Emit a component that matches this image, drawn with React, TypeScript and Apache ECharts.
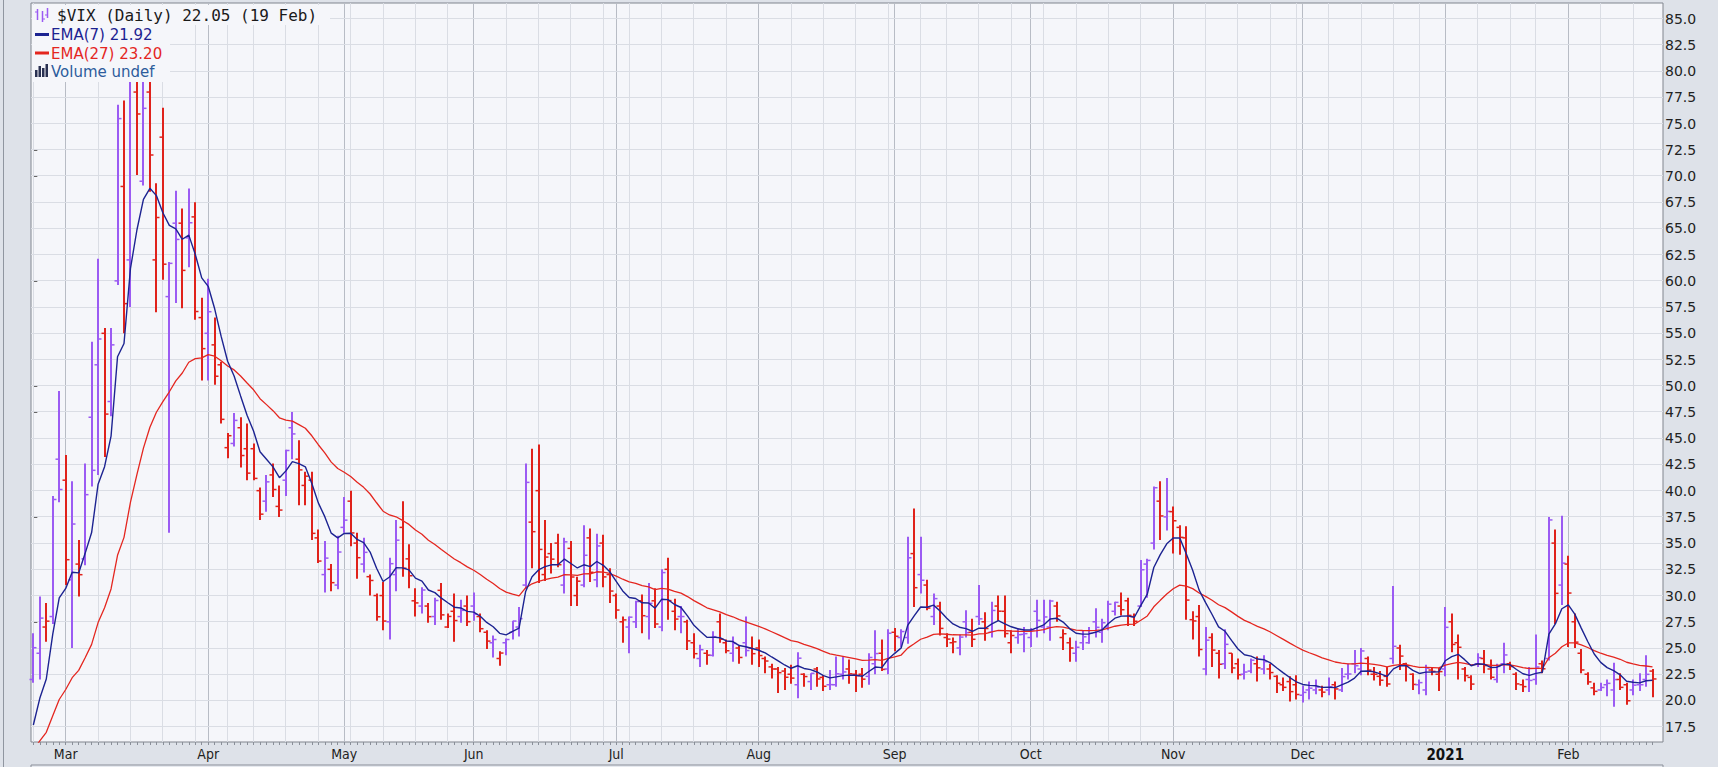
import React, { useEffect, useRef } from 'react';
import * as echarts from 'echarts';

// ---- Data ----
const DATES: string[] = [
  '2020-02-24','2020-02-25','2020-02-26','2020-02-27','2020-02-28',
  '2020-03-02','2020-03-03','2020-03-04','2020-03-05','2020-03-06','2020-03-09','2020-03-10','2020-03-11','2020-03-12','2020-03-13','2020-03-16','2020-03-17','2020-03-18','2020-03-19','2020-03-20','2020-03-23','2020-03-24','2020-03-25','2020-03-26','2020-03-27','2020-03-30','2020-03-31',
  '2020-04-01','2020-04-02','2020-04-03','2020-04-06','2020-04-07','2020-04-08','2020-04-09','2020-04-13','2020-04-14','2020-04-15','2020-04-16','2020-04-17','2020-04-20','2020-04-21','2020-04-22','2020-04-23','2020-04-24','2020-04-27','2020-04-28','2020-04-29','2020-04-30',
  '2020-05-01','2020-05-04','2020-05-05','2020-05-06','2020-05-07','2020-05-08','2020-05-11','2020-05-12','2020-05-13','2020-05-14','2020-05-15','2020-05-18','2020-05-19','2020-05-20','2020-05-21','2020-05-22','2020-05-26','2020-05-27','2020-05-28','2020-05-29',
  '2020-06-01','2020-06-02','2020-06-03','2020-06-04','2020-06-05','2020-06-08','2020-06-09','2020-06-10','2020-06-11','2020-06-12','2020-06-15','2020-06-16','2020-06-17','2020-06-18','2020-06-19','2020-06-22','2020-06-23','2020-06-24','2020-06-25','2020-06-26','2020-06-29','2020-06-30',
  '2020-07-01','2020-07-02','2020-07-06','2020-07-07','2020-07-08','2020-07-09','2020-07-10','2020-07-13','2020-07-14','2020-07-15','2020-07-16','2020-07-17','2020-07-20','2020-07-21','2020-07-22','2020-07-23','2020-07-24','2020-07-27','2020-07-28','2020-07-29','2020-07-30','2020-07-31',
  '2020-08-03','2020-08-04','2020-08-05','2020-08-06','2020-08-07','2020-08-10','2020-08-11','2020-08-12','2020-08-13','2020-08-14','2020-08-17','2020-08-18','2020-08-19','2020-08-20','2020-08-21','2020-08-24','2020-08-25','2020-08-26','2020-08-27','2020-08-28','2020-08-31',
  '2020-09-01','2020-09-02','2020-09-03','2020-09-04','2020-09-08','2020-09-09','2020-09-10','2020-09-11','2020-09-14','2020-09-15','2020-09-16','2020-09-17','2020-09-18','2020-09-21','2020-09-22','2020-09-23','2020-09-24','2020-09-25','2020-09-28','2020-09-29','2020-09-30',
  '2020-10-01','2020-10-02','2020-10-05','2020-10-06','2020-10-07','2020-10-08','2020-10-09','2020-10-12','2020-10-13','2020-10-14','2020-10-15','2020-10-16','2020-10-19','2020-10-20','2020-10-21','2020-10-22','2020-10-23','2020-10-26','2020-10-27','2020-10-28','2020-10-29','2020-10-30',
  '2020-11-02','2020-11-03','2020-11-04','2020-11-05','2020-11-06','2020-11-09','2020-11-10','2020-11-11','2020-11-12','2020-11-13','2020-11-16','2020-11-17','2020-11-18','2020-11-19','2020-11-20','2020-11-23','2020-11-24','2020-11-25','2020-11-27','2020-11-30',
  '2020-12-01','2020-12-02','2020-12-03','2020-12-04','2020-12-07','2020-12-08','2020-12-09','2020-12-10','2020-12-11','2020-12-14','2020-12-15','2020-12-16','2020-12-17','2020-12-18','2020-12-21','2020-12-22','2020-12-23','2020-12-24','2020-12-28','2020-12-29','2020-12-30','2020-12-31',
  '2021-01-04','2021-01-05','2021-01-06','2021-01-07','2021-01-08','2021-01-11','2021-01-12','2021-01-13','2021-01-14','2021-01-15','2021-01-19','2021-01-20','2021-01-21','2021-01-22','2021-01-25','2021-01-26','2021-01-27','2021-01-28','2021-01-29',
  '2021-02-01','2021-02-02','2021-02-03','2021-02-04','2021-02-05','2021-02-08','2021-02-09','2021-02-10','2021-02-11','2021-02-12','2021-02-16','2021-02-17','2021-02-18','2021-02-19',
];

const OPEN: number[] = [
  22.0, 24.5, 27.0, 28.0, 43.0,
  41.0, 31.5, 33.0, 33.5, 47.0, 52.0, 55.0, 48.5, 60.0, 69.0, 62.0, 78.0, 69.5, 78.0, 62.0, 73.7, 58.5, 65.5, 65.5, 64.1, 66.1, 56.5,
  55.0, 53.9, 52.0, 44.1, 44.5, 46.0, 44.0, 44.0, 40.0, 39.0, 41.5, 38.5, 41.0, 46.0, 43.0, 40.5, 41.0, 35.5, 32.0, 32.5, 31.0,
  36.5, 39.0, 35.0, 33.0, 31.8, 30.0, 30.0, 27.5, 32.0, 36.5, 33.5, 29.5, 29.0, 29.0, 28.0, 30.5, 27.0, 28.5, 28.0, 29.0,
  29.0, 28.0, 26.5, 25.5, 24.0, 25.5, 26.5, 27.0, 31.0, 37.0, 40.0, 32.0, 34.0, 35.0, 31.0, 34.5, 30.0, 31.0, 35.5, 31.5, 35.0, 32.0,
  30.0, 27.5, 27.0, 27.5, 29.5, 28.0, 29.5, 27.0, 32.5, 28.5, 28.0, 27.5, 25.5, 24.0, 24.5, 24.3, 27.5, 25.5, 24.5, 25.0, 25.5, 25.0,
  25.0, 24.0, 23.2, 23.0, 22.8, 22.5, 21.5, 22.5, 21.8, 23.0, 22.2, 21.5, 21.5, 22.5, 23.0, 22.5, 22.5, 22.3, 23.5, 24.5, 23.0,
  26.5, 26.0, 26.0, 34.0, 32.0, 31.0, 28.0, 29.0, 26.0, 25.5, 25.0, 27.5, 26.5, 28.0, 27.5, 26.5, 29.0, 28.5, 25.5, 26.0, 26.3,
  26.0, 28.5, 27.0, 27.0, 29.0, 26.0, 25.5, 24.5, 25.5, 25.5, 27.5, 26.5, 27.0, 28.5, 29.0, 29.5, 28.0, 29.0, 33.0, 35.0, 39.0, 37.5,
  38.0, 36.5, 35.5, 27.7, 28.0, 23.0, 26.0, 24.5, 23.5, 24.5, 23.5, 22.5, 22.8, 23.5, 23.0, 23.0, 22.3, 21.5, 21.8, 21.5,
  20.5, 21.0, 21.0, 21.0, 21.0, 21.5, 21.0, 22.5, 23.5, 23.0, 24.0, 22.5, 22.3, 22.3, 24.0, 25.0, 23.5, 22.5, 21.5, 21.0, 22.9, 22.5,
  23.0, 27.5, 25.5, 23.0, 22.2, 23.5, 24.0, 23.0, 22.0, 23.5, 23.5, 22.5, 21.5, 22.0, 22.0, 23.5, 24.0, 35.0, 31.0,
  33.0, 27.5, 24.5, 22.5, 21.2, 21.0, 21.5, 21.0, 22.0, 21.5, 21.0, 21.5, 22.0, 22.8,
];

const HIGH: number[] = [
  26.4, 29.9, 29.3, 39.5, 49.5,
  43.4, 40.9, 35.3, 42.6, 54.2, 62.1, 55.5, 55.5, 76.8, 77.2, 83.6, 84.8, 85.5, 85.0, 69.3, 76.5, 61.8, 68.6, 66.9, 68.8, 67.5, 58.4,
  60.2, 56.5, 52.3, 45.5, 47.4, 47.0, 46.4, 44.5, 40.3, 41.5, 42.6, 40.5, 43.9, 47.5, 44.8, 41.8, 41.8, 36.3, 35.2, 33.0, 35.7,
  39.4, 40.0, 36.0, 35.5, 32.0, 30.2, 31.3, 33.6, 37.2, 39.0, 34.9, 30.7, 30.8, 29.3, 29.8, 31.2, 28.3, 30.2, 29.6, 30.0,
  30.3, 28.3, 26.7, 26.2, 24.7, 25.9, 27.6, 28.9, 42.6, 44.0, 44.4, 37.2, 35.0, 35.9, 35.5, 35.2, 31.8, 36.7, 36.4, 35.9, 35.8, 32.6,
  30.2, 28.0, 28.0, 29.5, 30.1, 31.2, 30.7, 32.5, 33.6, 29.7, 29.0, 27.7, 26.4, 25.3, 24.8, 26.6, 28.3, 25.8, 26.1, 25.2, 28.0, 26.1,
  25.8, 24.2, 23.5, 23.2, 23.1, 23.4, 24.6, 22.6, 22.6, 23.2, 22.4, 22.9, 24.2, 24.2, 23.9, 22.9, 23.1, 24.5, 26.7, 25.8, 26.8,
  26.9, 26.8, 35.6, 38.3, 35.6, 31.5, 30.2, 29.4, 26.4, 26.0, 26.3, 28.6, 27.8, 31.0, 28.4, 29.4, 30.0, 30.0, 26.7, 26.9, 27.0,
  26.9, 29.6, 29.6, 29.6, 29.4, 26.8, 26.0, 25.7, 26.7, 27.0, 28.8, 27.8, 29.5, 29.4, 30.3, 29.8, 28.3, 33.4, 33.5, 40.4, 40.9, 41.2,
  38.5, 36.7, 36.6, 28.5, 29.1, 27.0, 26.4, 24.8, 26.8, 24.5, 24.0, 23.5, 24.0, 24.2, 24.3, 23.5, 22.4, 22.2, 22.3, 22.4,
  21.4, 21.8, 22.0, 21.4, 22.2, 21.8, 23.1, 23.5, 24.8, 25.0, 24.2, 23.2, 22.8, 23.2, 30.9, 25.3, 23.6, 22.6, 22.0, 23.4, 23.1, 23.1,
  28.9, 28.3, 26.3, 23.2, 22.4, 24.5, 24.8, 23.9, 23.5, 25.5, 23.7, 22.7, 22.0, 23.2, 26.3, 23.8, 37.5, 36.3, 37.6,
  33.8, 28.3, 24.9, 22.7, 21.7, 21.7, 22.0, 23.6, 22.6, 21.7, 22.0, 22.6, 24.3, 23.0,
];

const LOW: number[] = [
  21.7, 22.0, 25.6, 27.3, 38.9,
  31.0, 25.0, 29.9, 32.9, 40.4, 41.5, 43.2, 47.1, 59.6, 55.0, 57.5, 70.1, 69.1, 68.5, 57.0, 60.1, 36.0, 57.9, 57.4, 61.3, 56.3, 50.5,
  50.5, 50.1, 46.4, 43.1, 44.2, 42.2, 41.0, 41.0, 37.2, 38.0, 39.4, 37.5, 39.5, 43.0, 38.6, 38.6, 35.3, 33.1, 30.3, 30.4, 30.6,
  36.0, 34.7, 31.6, 32.2, 30.0, 27.6, 26.7, 25.8, 30.4, 31.8, 30.7, 28.0, 28.3, 27.4, 27.2, 27.7, 26.9, 25.6, 27.4, 27.1,
  27.6, 26.5, 24.9, 24.1, 23.3, 24.3, 25.8, 26.1, 30.6, 32.6, 31.2, 31.4, 32.1, 32.7, 30.2, 29.0, 29.0, 30.8, 31.3, 30.8, 30.8, 29.3,
  27.8, 25.5, 24.5, 26.9, 26.4, 25.8, 26.9, 26.6, 27.7, 26.7, 26.4, 24.8, 24.0, 23.2, 23.4, 24.2, 25.5, 24.5, 23.7, 23.5, 24.2, 23.4,
  23.2, 22.6, 22.1, 20.7, 21.0, 21.6, 20.2, 21.3, 21.0, 21.3, 20.9, 21.0, 21.3, 22.0, 21.6, 20.8, 21.2, 21.5, 22.5, 22.8, 22.5,
  24.7, 25.1, 25.4, 28.9, 30.2, 28.6, 27.2, 26.2, 25.1, 24.5, 24.3, 26.0, 25.1, 27.2, 25.7, 26.0, 27.6, 26.0, 24.5, 25.4, 24.6,
  25.1, 26.0, 26.4, 25.7, 27.5, 24.8, 23.7, 23.7, 24.8, 25.4, 26.0, 25.5, 26.7, 28.1, 28.1, 27.1, 27.1, 28.9, 29.8, 34.4, 35.3, 36.2,
  34.0, 33.9, 27.7, 25.8, 24.2, 22.4, 23.2, 22.1, 23.0, 22.6, 22.0, 22.0, 22.6, 21.8, 22.5, 22.0, 20.7, 20.9, 19.9, 20.1,
  19.8, 20.1, 20.6, 20.3, 20.5, 20.1, 20.8, 22.0, 22.6, 22.4, 22.4, 21.9, 21.4, 21.3, 23.5, 22.9, 21.8, 21.0, 20.6, 20.5, 22.4, 20.9,
  22.3, 24.6, 22.0, 21.8, 21.0, 23.2, 22.6, 22.0, 21.7, 22.6, 22.9, 21.0, 20.8, 20.8, 21.5, 22.6, 23.8, 27.3, 29.1,
  25.1, 25.0, 22.6, 21.5, 20.5, 20.9, 20.4, 19.4, 21.0, 19.6, 20.5, 20.9, 21.3, 20.3,
];

const CLOSE: number[] = [
  25.03, 27.85, 27.56, 39.16, 40.11,
  33.42, 36.82, 31.99, 39.62, 41.94, 54.46, 47.30, 53.90, 75.47, 57.83, 82.69, 75.91, 76.45, 72.00, 66.04, 61.59, 61.67, 63.95, 61.00, 65.54, 57.08, 53.54,
  57.06, 50.91, 46.80, 45.24, 46.70, 43.35, 41.67, 41.17, 37.76, 40.84, 40.11, 38.15, 43.83, 45.41, 41.98, 41.38, 35.93, 33.29, 33.57, 31.23, 34.15,
  37.19, 35.97, 33.61, 34.12, 31.44, 27.98, 27.57, 33.04, 35.28, 32.61, 31.89, 29.30, 30.53, 27.99, 29.53, 28.16, 28.01, 27.62, 28.59, 27.51,
  28.23, 26.84, 25.66, 25.81, 24.52, 25.81, 27.57, 27.80, 40.79, 36.09, 34.40, 33.67, 33.47, 32.94, 35.12, 31.77, 31.37, 33.84, 32.22, 34.73, 31.78, 30.43,
  28.62, 27.68, 27.94, 29.43, 28.08, 29.26, 27.29, 32.19, 29.52, 27.76, 28.00, 25.68, 24.46, 24.84, 24.32, 26.08, 25.84, 24.74, 25.44, 24.10, 24.76, 24.46,
  24.28, 23.76, 23.00, 22.65, 22.21, 22.13, 24.03, 22.28, 22.59, 22.05, 21.35, 21.51, 22.54, 22.72, 22.54, 22.37, 22.03, 24.10, 24.47, 22.96, 26.41,
  26.12, 26.57, 33.60, 30.75, 31.46, 28.81, 29.71, 26.87, 25.85, 25.59, 26.04, 26.46, 25.83, 27.78, 26.86, 28.58, 28.51, 26.38, 26.19, 26.27, 26.37,
  26.70, 27.63, 27.96, 29.48, 28.06, 26.36, 25.00, 25.07, 26.07, 26.40, 26.97, 27.41, 29.18, 29.35, 28.65, 28.11, 27.55, 32.46, 33.35, 40.28, 37.59, 38.02,
  37.13, 35.55, 29.57, 27.58, 24.86, 25.75, 24.80, 23.45, 25.35, 23.10, 22.45, 22.71, 23.84, 23.11, 23.70, 22.66, 21.64, 21.25, 20.84, 20.57,
  20.77, 21.17, 21.28, 20.79, 21.30, 21.10, 22.27, 22.52, 23.31, 24.72, 22.89, 22.50, 21.93, 21.57, 25.16, 24.23, 23.31, 21.53, 21.70, 23.08, 22.77, 22.75,
  26.97, 25.34, 25.07, 22.37, 21.56, 24.08, 23.33, 22.21, 23.25, 24.34, 23.24, 21.58, 21.32, 21.91, 23.19, 23.02, 37.21, 30.21, 33.09,
  30.24, 25.56, 22.91, 21.77, 20.87, 21.24, 21.63, 21.99, 21.25, 19.97, 21.46, 21.50, 22.49, 22.05,
];

const PREV_CLOSE = 17.08; // close before the first bar
const EMA7_START = 15.2; // EMA(7) value before the first bar
const EMA27_START = 14.5; // EMA(27) value before the first bar

const Y_TICKS: number[] = [17.5, 20, 22.5, 25, 27.5, 30, 32.5, 35, 37.5, 40, 42.5, 45, 47.5, 50, 52.5, 55, 57.5, 60, 62.5, 65, 67.5, 70, 72.5, 75, 77.5, 80, 82.5, 85];
const MONTH_NAMES = ['Jan', 'Feb', 'Mar', 'Apr', 'May', 'Jun', 'Jul', 'Aug', 'Sep', 'Oct', 'Nov', 'Dec'];

const TITLE_TEXT = '$VIX (Daily) 22.05 (19 Feb)';
const EMA7_TEXT = 'EMA(7) 21.92';
const EMA27_TEXT = 'EMA(27) 23.20';
const VOLUME_TEXT = 'Volume undef';

// ---- Styles ----
const PURPLE = '#9B5BF3';
const RED = '#E0221B';
const NAVY = '#1C2391';
const EMA_RED = '#E4261F';
const PLOT_BG = '#F5F6FA';
const GRID_MINOR = '#DADDE4';
const GRID_MAJOR = '#B8BCC5';

function emaSeries(values: number[], period: number, start: number): number[] {
  const k = 2 / (period + 1);
  const out: number[] = [];
  let prev = start;
  for (const v of values) {
    prev = prev + k * (v - prev);
    out.push(Math.round(prev * 1000) / 1000);
  }
  return out;
}

export default function App() {
  const ref = useRef<HTMLDivElement>(null);

  useEffect(() => {
    if (!ref.current) return;
    const chart = echarts.init(ref.current, null, { renderer: 'svg' });

    const parsed = DATES.map((d) => new Date(d + 'T00:00:00Z'));
    const weekStarts: number[] = [];
    const monthStarts: number[] = [];
    parsed.forEach((dt, i) => {
      if (i === 0) {
        weekStarts.push(0);
        return;
      }
      const p = parsed[i - 1];
      if (dt.getUTCDay() <= p.getUTCDay() || dt.getTime() - p.getTime() >= 7 * 864e5) weekStarts.push(i);
      if (dt.getUTCMonth() !== p.getUTCMonth()) monthStarts.push(i);
    });
    const allIdx = DATES.map((_, i) => i);

    const ohlc = DATES.map((_, i) => [
      i, OPEN[i], HIGH[i], LOW[i], CLOSE[i],
      CLOSE[i] > (i ? CLOSE[i - 1] : PREV_CLOSE) ? 1 : 0,
    ]);
    const ema7 = emaSeries(CLOSE, 7, EMA7_START).map((v, i) => [i, v]);
    const ema27 = emaSeries(CLOSE, 27, EMA27_START).map((v, i) => [i, v]);

    const X_MIN = -0.36;
    const X_MAX = 251.62;
    const Y_MIN = 16.04;
    const Y_MAX = 86.49;

    const vLine = (color: string) => (params: any, api: any) => {
      const cs = params.coordSys;
      const x = Math.floor(api.coord([api.value(0), Y_MIN])[0]) + 0.5;
      return {
        type: 'line',
        shape: { x1: x, y1: cs.y, x2: x, y2: cs.y + cs.height },
        style: { stroke: color, lineWidth: 1 },
        silent: true,
      };
    };

    const option: any = {
      animation: false,
      backgroundColor: '#DEE2E9',
      grid: [
        {
          left: 31, right: 55, top: 3, bottom: 25,
          show: true, backgroundColor: PLOT_BG, borderColor: '#80858E', borderWidth: 1,
        },
        {
          left: 31, right: 55, top: 765, height: 20,
          show: true, backgroundColor: '#E6E9EF', borderColor: '#8A8F99', borderWidth: 1,
        },
      ],
      xAxis: [
        {
          type: 'value', gridIndex: 0, min: X_MIN, max: X_MAX,
          axisLine: { show: false },
          splitLine: { show: false },
          axisTick: { show: true, customValues: allIdx, length: 3, lineStyle: { color: '#8A8F99' } },
          axisLabel: {
            customValues: monthStarts,
            margin: 5,
            color: '#222',
            fontSize: 14,
            fontFamily: '"DejaVu Sans Condensed", "DejaVu Sans", sans-serif',
            formatter: (v: number) => {
              const d = parsed[Math.round(v)];
              if (!d) return '';
              const m = d.getUTCMonth();
              return m === 0 ? `{y|${d.getUTCFullYear()}}` : MONTH_NAMES[m];
            },
            rich: {
              y: { fontWeight: 'bold', fontSize: 15, color: '#111', fontFamily: '"DejaVu Sans Condensed", "DejaVu Sans", sans-serif' },
            },
          },
        },
        {
          type: 'value', gridIndex: 1, min: X_MIN, max: X_MAX, position: 'top',
          axisLine: { show: false },
          splitLine: { show: false },
          axisLabel: { show: false },
          axisTick: { show: true, customValues: allIdx, length: 2, lineStyle: { color: '#8A8F99' } },
        },
      ],
      yAxis: [
        {
          type: 'value', gridIndex: 0, position: 'right', min: Y_MIN, max: Y_MAX,
          axisLine: { show: false },
          splitLine: { show: false },
          axisTick: { show: true, customValues: Y_TICKS, length: 4, lineStyle: { color: '#666' } },
          axisLabel: {
            customValues: Y_TICKS,
            margin: 2,
            color: '#222',
            fontSize: 14,
            fontFamily: '"DejaVu Sans", sans-serif',
            formatter: (v: number) => v.toFixed(1),
          },
        },
        { type: 'value', gridIndex: 1, show: false, min: 0, max: 1 },
      ],
      series: [
        {
          type: 'custom', name: 'weekGrid', xAxisIndex: 0, yAxisIndex: 0, z: 1, silent: true,
          data: weekStarts.map((i) => [i]),
          encode: { x: 0 },
          renderItem: vLine(GRID_MINOR),
        },
        {
          type: 'custom', name: 'monthGrid', xAxisIndex: 0, yAxisIndex: 0, z: 1, silent: true,
          data: monthStarts.map((i) => [i]),
          encode: { x: 0 },
          renderItem: vLine(GRID_MAJOR),
        },
        {
          type: 'custom', name: 'yGrid', xAxisIndex: 0, yAxisIndex: 0, z: 1, silent: true,
          data: Y_TICKS.map((v) => [0, v]),
          encode: { x: 0, y: 1 },
          renderItem: (params: any, api: any) => {
            const cs = params.coordSys;
            const y = Math.floor(api.coord([0, api.value(1)])[1]) + 0.5;
            return {
              type: 'line',
              shape: { x1: cs.x, y1: y, x2: cs.x + cs.width, y2: y },
              style: { stroke: GRID_MINOR, lineWidth: 1 },
              silent: true,
            };
          },
        },
        {
          type: 'custom', name: '$VIX', xAxisIndex: 0, yAxisIndex: 0, z: 3,
          data: ohlc,
          encode: { x: 0, y: [2, 3] },
          renderItem: (params: any, api: any) => {
            const i = api.value(0);
            const o = api.coord([i, api.value(1)]);
            const h = api.coord([i, api.value(2)]);
            const l = api.coord([i, api.value(3)]);
            const c = api.coord([i, api.value(4)]);
            const color = api.value(5) > 0 ? PURPLE : RED;
            const x = Math.round(h[0]);
            return {
              type: 'group',
              children: [
                { type: 'line', shape: { x1: x, y1: h[1], x2: x, y2: l[1] }, style: { stroke: color, lineWidth: 2 } },
                { type: 'line', shape: { x1: x - 3.5, y1: o[1], x2: x, y2: o[1] }, style: { stroke: color, lineWidth: 1.5 } },
                { type: 'line', shape: { x1: x, y1: c[1], x2: x + 3.5, y2: c[1] }, style: { stroke: color, lineWidth: 1.5 } },
              ],
            };
          },
        },
        {
          type: 'line', name: 'EMA(27)', xAxisIndex: 0, yAxisIndex: 0, z: 4,
          data: ema27, showSymbol: false, symbol: 'none', clip: true,
          lineStyle: { color: EMA_RED, width: 1.3 },
        },
        {
          type: 'line', name: 'EMA(7)', xAxisIndex: 0, yAxisIndex: 0, z: 5,
          data: ema7, showSymbol: false, symbol: 'none', clip: true,
          lineStyle: { color: NAVY, width: 1.4 },
        },
      ],
      graphic: [
        { type: 'line', shape: { x1: 3.5, y1: 0, x2: 3.5, y2: 767 }, style: { stroke: '#9096A0', lineWidth: 1 }, z: 100, silent: true },
        { type: 'rect', shape: { x: 32, y: 5, width: 298, height: 20 }, style: { fill: PLOT_BG }, z: 100, silent: true },
        { type: 'rect', shape: { x: 32, y: 25, width: 138, height: 57 }, style: { fill: PLOT_BG }, z: 100, silent: true },
        // title icon (small OHLC glyphs)
        { type: 'line', shape: { x1: 37.5, y1: 9, x2: 37.5, y2: 20 }, style: { stroke: PURPLE, lineWidth: 1.5 }, z: 101, silent: true },
        { type: 'line', shape: { x1: 35, y1: 12, x2: 37.5, y2: 12 }, style: { stroke: PURPLE, lineWidth: 1 }, z: 101, silent: true },
        { type: 'line', shape: { x1: 42.5, y1: 11, x2: 42.5, y2: 22 }, style: { stroke: PURPLE, lineWidth: 1.5 }, z: 101, silent: true },
        { type: 'line', shape: { x1: 42.5, y1: 19, x2: 45, y2: 19 }, style: { stroke: PURPLE, lineWidth: 1 }, z: 101, silent: true },
        { type: 'line', shape: { x1: 47.5, y1: 8, x2: 47.5, y2: 18 }, style: { stroke: PURPLE, lineWidth: 1.5 }, z: 101, silent: true },
        { type: 'line', shape: { x1: 45, y1: 15, x2: 47.5, y2: 15 }, style: { stroke: PURPLE, lineWidth: 1 }, z: 101, silent: true },
        { type: 'text', x: 57, y: 15, style: { text: TITLE_TEXT, fontFamily: '"DejaVu Sans Mono", monospace', fontSize: 16, fill: '#1A1A1A', verticalAlign: 'middle' }, z: 101, silent: true },
        // EMA(7)
        { type: 'line', shape: { x1: 35, y1: 34.5, x2: 49, y2: 34.5 }, style: { stroke: NAVY, lineWidth: 3 }, z: 101, silent: true },
        { type: 'text', x: 51, y: 35, style: { text: EMA7_TEXT, fontFamily: '"DejaVu Sans", sans-serif', fontSize: 15, fill: NAVY, verticalAlign: 'middle' }, z: 101, silent: true },
        // EMA(27)
        { type: 'line', shape: { x1: 35, y1: 53, x2: 49, y2: 53 }, style: { stroke: EMA_RED, lineWidth: 3 }, z: 101, silent: true },
        { type: 'text', x: 51, y: 53.5, style: { text: EMA27_TEXT, fontFamily: '"DejaVu Sans", sans-serif', fontSize: 15, fill: EMA_RED, verticalAlign: 'middle' }, z: 101, silent: true },
        // Volume icon
        { type: 'rect', shape: { x: 35, y: 70, width: 2.5, height: 7 }, style: { fill: '#2A3152' }, z: 101, silent: true },
        { type: 'rect', shape: { x: 38.5, y: 66, width: 2.5, height: 11 }, style: { fill: '#2A3152' }, z: 101, silent: true },
        { type: 'rect', shape: { x: 42, y: 68, width: 2.5, height: 9 }, style: { fill: '#2A3152' }, z: 101, silent: true },
        { type: 'rect', shape: { x: 45.5, y: 64, width: 2.5, height: 13 }, style: { fill: '#2A3152' }, z: 101, silent: true },
        { type: 'text', x: 51, y: 72, style: { text: VOLUME_TEXT, fontFamily: '"DejaVu Sans", sans-serif', fontSize: 15, fill: '#2D5C9C', verticalAlign: 'middle' }, z: 101, silent: true },
      ],
    };

    chart.setOption(option);
    return () => chart.dispose();
  }, []);

  return <div ref={ref} style={{ position: 'fixed', left: 0, top: 0, width: 1718, height: 767 }} />;
}
